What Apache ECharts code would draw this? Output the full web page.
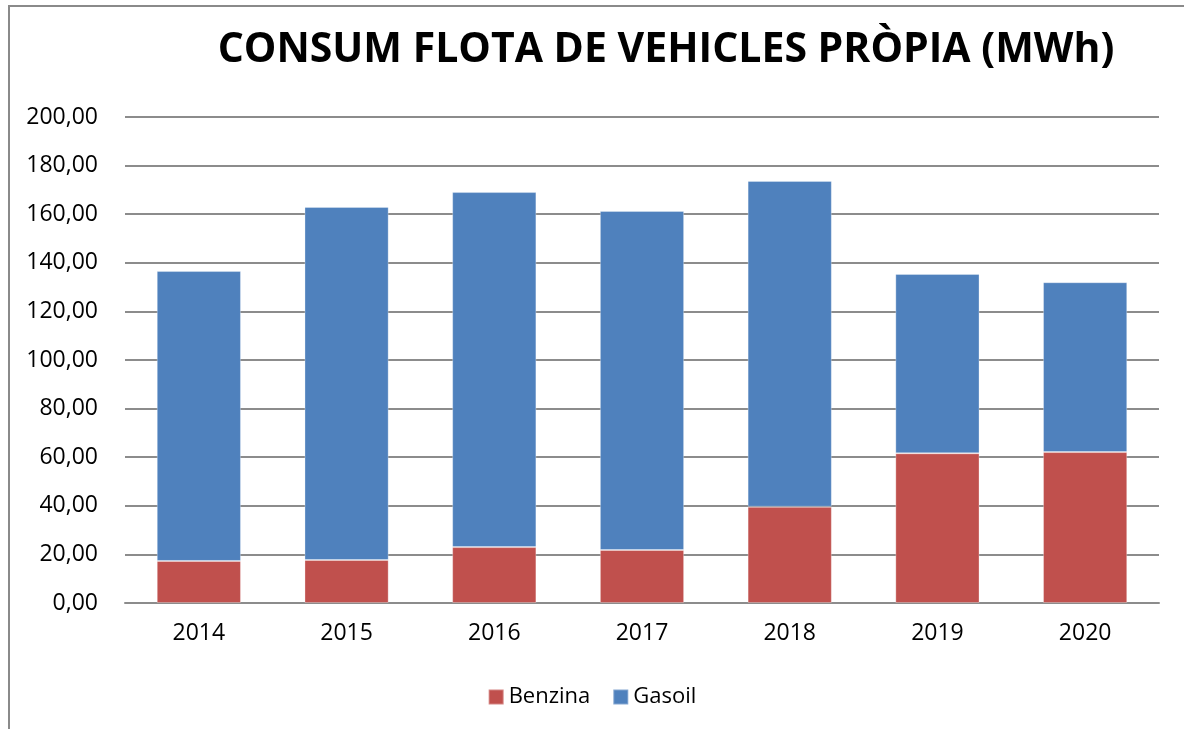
<!DOCTYPE html>
<html>
<head>
<meta charset="utf-8">
<script src="https://cdn.jsdelivr.net/npm/echarts@6/dist/echarts.min.js"></script>
<style>
  html, body { margin: 0; padding: 0; background: #fff; }
  #chart { width: 1184px; height: 729px; }
  .frame { position: absolute; left: 8px; top: 5px; width: 1200px; height: 800px; border: 2px solid #8a8a8a; box-sizing: border-box; pointer-events: none; }
</style>
</head>
<body>
<div id="chart"></div>
<div class="frame"></div>
<script>
// anys
const years = ["2014", "2015", "2016", "2017", "2018", "2019", "2020"];
// consum (MWh)
const benzina = [17.3, 17.7, 23.0, 21.8, 39.6, 61.6, 62.1];
const gasoil = [119.3, 145.3, 146.1, 139.5, 134.1, 73.8, 69.9];

let myChart = echarts.init(document.getElementById("chart"));

const fontFam = "'Open Sans', 'Noto Sans', sans-serif";

let options = {
  animation: false,
  title: {
    text: "CONSUM FLOTA DE VEHICLES PRÒPIA (MWh)",
    left: 661,
    textAlign: "center",
    top: 25,
    textStyle: { fontFamily: fontFam, fontWeight: "bold", fontSize: 41, color: "#000" },
  },
  color: ["#C0504D", "#4F81BD"],
  legend: {
    top: 681,
    left: "center",
    itemWidth: 15,
    itemHeight: 15,
    itemGap: 22,
    icon: "rect",
    textStyle: { fontFamily: fontFam, fontSize: 22, color: "#000" },
    data: ["Benzina", "Gasoil"],
  },
  grid: {
    left: 125,
    right: 25,
    top: 117,
    bottom: 126,
  },
  xAxis: {
    type: "category",
    data: years,
    axisTick: { show: false },
    axisLine: { lineStyle: { color: "#8c8c8c", width: 2 } },
    axisLabel: { fontFamily: fontFam, fontSize: 23, color: "#000", margin: 19 },
  },
  yAxis: {
    type: "value",
    min: 0,
    max: 200,
    interval: 20,
    axisLabel: {
      fontFamily: fontFam,
      fontSize: 23,
      color: "#000",
      margin: 27,
      formatter: (v) => v.toFixed(2).replace(".", ","),
    },
    axisLine: { show: false },
    axisTick: { show: false },
    splitLine: { show: true, lineStyle: { color: "#8c8c8c", width: 2 } },
  },
  series: [
    {
      name: "Benzina",
      type: "bar",
      stack: "total",
      barWidth: "57%",
      itemStyle: { borderColor: "rgba(255,255,255,0.3)", borderWidth: 1 },
      data: benzina,
    },
    {
      name: "Gasoil",
      type: "bar",
      stack: "total",
      barWidth: "57%",
      itemStyle: { borderColor: "rgba(255,255,255,0.3)", borderWidth: 1 },
      data: gasoil,
    },
  ],
};
myChart.setOption(options);
</script>
</body>
</html>
